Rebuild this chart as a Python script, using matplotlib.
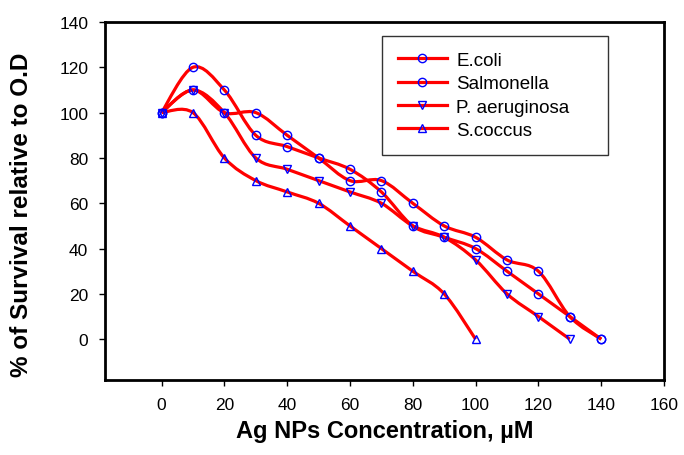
import numpy as np
import matplotlib
matplotlib.use('Agg')
import matplotlib.pyplot as plt
from matplotlib.path import Path
from matplotlib.patches import PathPatch

plt.rcParams['font.family'] = ['Liberation Sans', 'DejaVu Sans']

# data
conc = [0, 10, 20, 30, 40, 50, 60, 70, 80, 90, 100, 110, 120, 130, 140]
ecoli = [100, 120, 110, 90, 85, 80, 75, 65, 50, 45, 40, 30, 20, 10, 0]
salmonella = [100, 110, 100, 100, 90, 80, 70, 70, 60, 50, 45, 35, 30, 10, 0]
paeru = [100, 110, 100, 80, 75, 70, 65, 60, 50, 45, 35, 20, 10, 0]
scoccus = [100, 100, 80, 70, 65, 60, 50, 40, 30, 20, 0]

series = [
    ('E.coli', ecoli, 'o'),
    ('Salmonella', salmonella, 'o'),
    ('P. aeruginosa', paeru, 'v'),
    ('S.coccus', scoccus, '^'),
]


def smooth_path(xs, ys):
    # excel-like smoothed line: catmull-rom as cubic bezier segments
    p = np.column_stack([xs, ys]).astype(float)
    pts = np.vstack([p[0], p, p[-1]])
    verts = [p[0]]
    codes = [Path.MOVETO]
    for i in range(1, len(pts) - 2):
        p0, p1, p2, p3 = pts[i - 1], pts[i], pts[i + 1], pts[i + 2]
        verts += [p1 + (p2 - p0) / 6., p2 - (p3 - p1) / 6., p2]
        codes += [Path.CURVE4] * 3
    return Path(verts, codes)


fig = plt.figure(figsize=(6.84, 4.56), dpi=100)
ax = fig.add_axes([0.1535, 0.1645, 0.9708 - 0.1535, 0.9496 - 0.1645])

for name, vals, mk in series:
    xs = conc[:len(vals)]
    ax.add_patch(PathPatch(smooth_path(xs, vals), facecolor='none',
                           edgecolor='red', lw=2.3, zorder=2))
    ax.plot(xs, vals, linestyle='none', marker=mk, ms=6, mfc='none',
            mec='blue', mew=1.0, zorder=3)
    # legend proxy
    ax.plot([], [], color='red', lw=2.3, marker=mk, ms=6, mfc='none',
            mec='blue', mew=1.0, label=name)

ax.set_xlim(-18, 160)
ax.set_ylim(-18, 140)
ax.set_xticks(range(0, 161, 20))
ax.set_yticks(range(0, 141, 20))
ax.tick_params(axis='both', direction='out', length=4, width=1,
               labelsize=12.5)
ax.tick_params(axis='x', pad=8)
ax.tick_params(axis='y', pad=8)
for s in ax.spines.values():
    s.set_linewidth(2.0)

ax.set_xlabel('Ag NPs Concentration, µM', fontsize=17, fontweight='bold')
ax.xaxis.set_label_coords(0.5, -0.108)
ax.set_ylabel('% of Survival relative to O.D', fontsize=17.5,
              fontweight='bold')
ax.yaxis.set_label_coords(-0.128, 0.464)

leg = ax.legend(loc='upper left', bbox_to_anchor=(0.4955, 0.961, 0.404, 0.0),
                mode='expand', fontsize=13.5, frameon=True, fancybox=False,
                handlelength=2.6, borderpad=0.85, labelspacing=0.33,
                handletextpad=0.5, borderaxespad=0)
leg.get_frame().set_edgecolor('black')
leg.get_frame().set_linewidth(1.0)

plt.savefig('out.png', dpi=100)
